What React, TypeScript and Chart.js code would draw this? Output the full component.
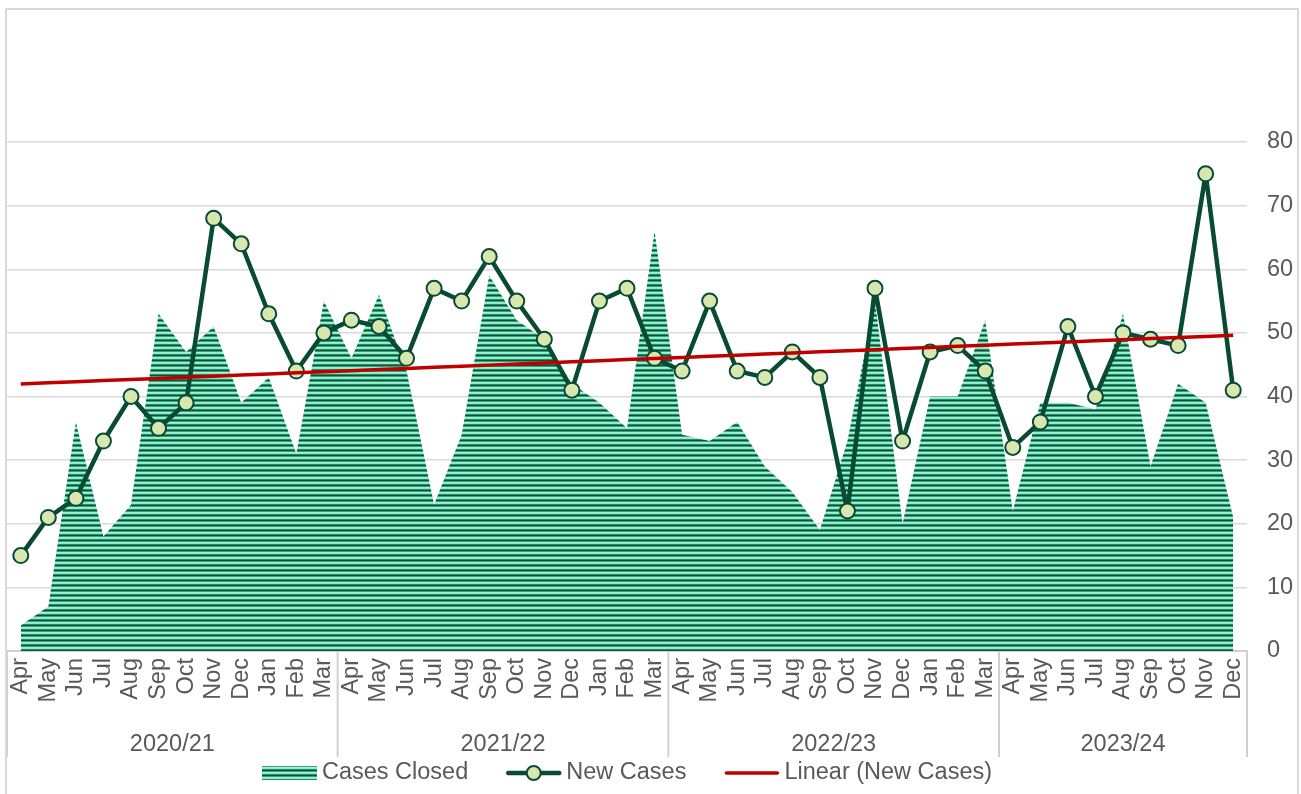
import React, { useEffect, useRef } from "react";
import { Chart, registerables } from "chart.js";

Chart.register(...registerables);

// ---- data ----
const fiscalMonths = ["Apr", "May", "Jun", "Jul", "Aug", "Sep", "Oct", "Nov", "Dec", "Jan", "Feb", "Mar"];
const years = ["2020/21", "2021/22", "2022/23", "2023/24"];
const yearSpans = [12, 12, 12, 9];
const monthLabels: string[] = yearSpans.flatMap((n) => fiscalMonths.slice(0, n));

const casesClosed = [
  4, 7, 36, 18, 23, 53, 47, 51, 39, 43, 31, 55,
  46, 56, 44, 23, 34, 59, 52, 49, 42, 39, 35, 66,
  34, 33, 36, 29, 25, 19, 33, 55, 20, 40, 40, 52,
  22, 39, 39, 38, 53, 29, 42, 39, 21,
];
const newCases = [
  15, 21, 24, 33, 40, 35, 39, 68, 64, 53, 44, 50,
  52, 51, 46, 57, 55, 62, 55, 49, 41, 55, 57, 46,
  44, 55, 44, 43, 47, 43, 22, 57, 33, 47, 48, 44,
  32, 36, 51, 40, 50, 49, 48, 75, 41,
];
const seriesNames = ["Cases Closed", "New Cases", "Linear (New Cases)"];
const yMin = 0;
const yMax = 80;
const yStep = 10;

// least-squares trend of New Cases (Excel "Linear" trendline)
function linearTrend(vals: number[]): number[] {
  const n = vals.length;
  const xs = vals.map((_, i) => i + 1);
  const mx = xs.reduce((a, b) => a + b, 0) / n;
  const my = vals.reduce((a, b) => a + b, 0) / n;
  let num = 0;
  let den = 0;
  xs.forEach((x, i) => {
    num += (x - mx) * (vals[i] - my);
    den += (x - mx) * (x - mx);
  });
  const slope = num / den;
  const icpt = my - slope * mx;
  return xs.map((x) => icpt + slope * x);
}
const trend = linearTrend(newCases);

// ---- style ----
const FONT = '"Liberation Sans", Arial, sans-serif';
const FS = 23.5;
const TEXT = "#595959";
const DARK = "#084b32";
const MARKER = "#d8e7b0";
const RED = "#c00000";
const GRID = "#d9d9d9";
const AXIS_H = 106;
const YAXIS_W = 46;

export default function App() {
  const ref = useRef<HTMLCanvasElement>(null);

  useEffect(() => {
    document.body.style.overflow = "hidden";
    const canvas = ref.current!;
    const ctx = canvas.getContext("2d")!;

    const pc = document.createElement("canvas");
    const stripes = ["#0b5238", "#3c9e7a", "#96f6d4", "#88ecc8", "#2f8868"];
    pc.width = 4;
    pc.height = stripes.length;
    const pctx = pc.getContext("2d")!;
    stripes.forEach((c, i) => {
      pctx.fillStyle = c;
      pctx.fillRect(0, i, 4, 1);
    });
    const pattern = ctx.createPattern(pc, "repeat")!;

    const groupsPlugin = {
      id: "groupsAndLegend",
      afterDraw(chart: any) {
        const { ctx: c, chartArea, scales } = chart;
        const x = scales.x;
        const top = chartArea.bottom;
        const bottom = top + AXIS_H;
        const step = x.getPixelForTick(1) - x.getPixelForTick(0);
        const bounds: number[] = [x.getPixelForTick(0) - step / 2];
        let idx = 0;
        yearSpans.forEach((n) => {
          idx += n;
          bounds.push(x.getPixelForTick(idx - 1) + step / 2);
        });
        c.save();
        c.strokeStyle = "#d0d0d0";
        c.lineWidth = 2;
        bounds.forEach((b) => {
          c.beginPath();
          c.moveTo(b, top);
          c.lineTo(b, bottom);
          c.stroke();
        });
        c.fillStyle = TEXT;
        c.font = `${FS}px ${FONT}`;
        c.textAlign = "center";
        c.textBaseline = "middle";
        years.forEach((y, i) => c.fillText(y, (bounds[i] + bounds[i + 1]) / 2, top + 94));

        // legend
        const sw = 55;
        const tg = 5;
        const ig = 38;
        const widths = seriesNames.map((s) => c.measureText(s).width);
        const total = seriesNames.length * (sw + tg) + widths.reduce((a, b) => a + b, 0) + ig * (seriesNames.length - 1);
        let cx = (chartArea.left + chartArea.right) / 2 - total / 2;
        const ly = chart.height - 21;
        seriesNames.forEach((s, i) => {
          if (i === 0) {
            c.fillStyle = pattern;
            c.fillRect(cx, ly - 7, sw, 14);
          } else if (i === 1) {
            c.strokeStyle = DARK;
            c.lineWidth = 4.5;
            c.lineCap = "round";
            c.beginPath();
            c.moveTo(cx + 2, ly);
            c.lineTo(cx + sw - 2, ly);
            c.stroke();
            c.beginPath();
            c.arc(cx + sw / 2, ly, 7, 0, Math.PI * 2);
            c.fillStyle = MARKER;
            c.fill();
            c.lineWidth = 2;
            c.stroke();
          } else {
            c.strokeStyle = RED;
            c.lineWidth = 3.5;
            c.lineCap = "round";
            c.beginPath();
            c.moveTo(cx + 2, ly);
            c.lineTo(cx + sw - 2, ly);
            c.stroke();
          }
          c.fillStyle = TEXT;
          c.textAlign = "left";
          c.fillText(s, cx + sw + tg, ly);
          cx += sw + tg + widths[i] + ig;
        });
        c.restore();
      },
    };

    const chart = new Chart(canvas, {
      type: "line",
      data: {
        labels: monthLabels,
        datasets: [
          {
            label: seriesNames[2],
            data: trend,
            borderColor: RED,
            borderWidth: 3.5,
            pointRadius: 0,
            fill: false,
            tension: 0,
            order: 0,
          },
          {
            label: seriesNames[1],
            data: newCases,
            borderColor: DARK,
            borderWidth: 4.5,
            borderJoinStyle: "round",
            pointRadius: 7.5,
            pointBorderWidth: 2,
            pointBackgroundColor: MARKER,
            pointBorderColor: DARK,
            fill: false,
            tension: 0,
            order: 1,
          },
          {
            label: seriesNames[0],
            data: casesClosed,
            borderColor: "transparent",
            borderWidth: 0,
            backgroundColor: pattern as any,
            fill: "origin",
            pointRadius: 0,
            tension: 0,
            order: 2,
          },
        ],
      },
      options: {
        responsive: false,
        animation: false,
        layout: { autoPadding: false, padding: { top: 132, right: 4, bottom: 37, left: 0 } },
        plugins: {
          legend: { display: false },
          tooltip: { enabled: false },
        },
        scales: {
          x: {
            offset: true,
            grid: { display: false, drawTicks: false },
            border: { display: true, color: "#d0d0d0", width: 2 },
            ticks: {
              autoSkip: false,
              minRotation: 90,
              maxRotation: 90,
              padding: 7,
              color: TEXT,
              font: { family: FONT, size: FS },
            },
            afterFit: (scale: any) => {
              scale.height = AXIS_H;
              scale.paddingLeft = 0;
              scale.paddingRight = 0;
            },
          },
          y: {
            position: "right",
            min: yMin,
            max: yMax,
            grid: { color: GRID, lineWidth: 1.5, drawTicks: false },
            border: { display: false },
            ticks: {
              stepSize: yStep,
              padding: 20,
              color: TEXT,
              font: { family: FONT, size: FS },
            },
            afterFit: (scale: any) => {
              scale.width = YAXIS_W;
            },
          },
        },
      },
      plugins: [groupsPlugin],
    });
    return () => chart.destroy();
  }, []);

  return (
    <div
      style={{
        position: "absolute",
        left: 5,
        top: 8,
        width: 1294,
        height: 786,
        border: "2px solid #d9d9d9",
        borderBottom: "none",
        boxSizing: "border-box",
        background: "#fff",
      }}
    >
      <canvas ref={ref} width={1290} height={784} style={{ display: "block" }} />
    </div>
  );
}
